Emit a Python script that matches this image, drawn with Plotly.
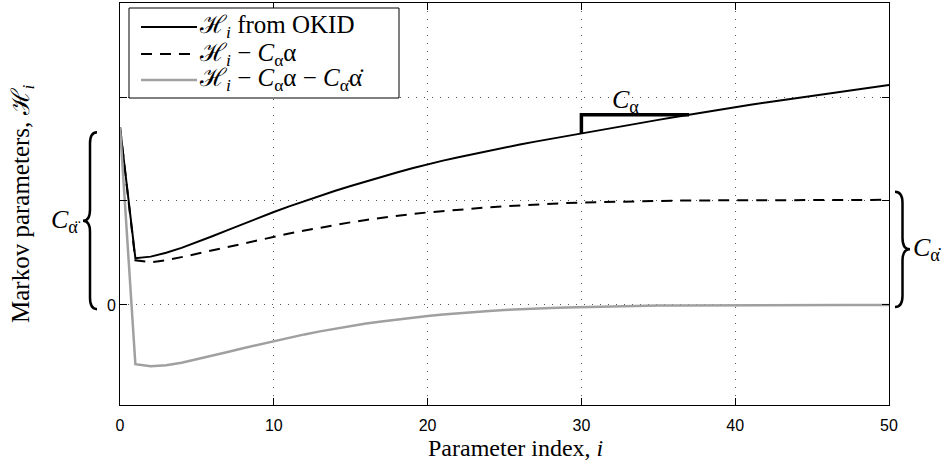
import plotly.graph_objects as go

# Markov parameter index
idx = list(range(51))

# Markov parameters identified by OKID
h_okid = [1.71, 0.45, 0.465, 0.502, 0.549, 0.603, 0.661, 0.720, 0.779, 0.837,
          0.894, 0.948, 1.0, 1.05, 1.098, 1.144, 1.189, 1.232, 1.274, 1.314,
          1.353, 1.388, 1.421, 1.453, 1.484, 1.514, 1.543, 1.571, 1.598, 1.624,
          1.65, 1.677, 1.703, 1.729, 1.755, 1.78, 1.805, 1.83, 1.855, 1.879,
          1.903, 1.925, 1.947, 1.968, 1.989, 2.01, 2.031, 2.052, 2.073, 2.094,
          2.115]

# Markov parameters with the C_alpha * alpha contribution removed
h_minus_alpha = [1.71, 0.43, 0.41, 0.43, 0.46, 0.493, 0.527, 0.561, 0.594, 0.626,
                 0.657, 0.687, 0.716, 0.744, 0.77, 0.795, 0.818, 0.839, 0.858, 0.875,
                 0.89, 0.904, 0.917, 0.929, 0.94, 0.95, 0.959, 0.967, 0.974, 0.98,
                 0.985, 0.989, 0.993, 0.996, 0.999, 1.001, 1.003, 1.005, 1.006, 1.007,
                 1.008, 1.009, 1.009, 1.01, 1.01, 1.01, 1.011, 1.011, 1.011, 1.011,
                 1.011]

# ... and with the C_alphadot * alphadot contribution removed as well
h_minus_both = [1.71, -0.57, -0.59, -0.58, -0.555, -0.523, -0.488, -0.452, -0.416, -0.381,
                -0.347, -0.314, -0.283, -0.254, -0.227, -0.202, -0.179, -0.158, -0.139, -0.122,
                -0.106, -0.092, -0.079, -0.067, -0.057, -0.048, -0.04, -0.033, -0.028, -0.024,
                -0.02, -0.016, -0.013, -0.01, -0.008, -0.006, -0.004, -0.003, -0.002, -0.001,
                0.0, 0.0, 0.001, 0.001, 0.001, 0.001, 0.001, 0.0, 0.0, 0.0,
                0.0]

legend_labels = [
    "ℋ<sub><i>i</i></sub> from OKID",
    "ℋ<sub><i>i</i></sub> − <i>C</i><sub>α</sub>α",
    "ℋ<sub><i>i</i></sub> − <i>C</i><sub>α</sub>α − <i>C</i><sub>α̇</sub>α̇",
]

x_tick_vals = [0, 10, 20, 30, 40, 50]
y_tick_vals = [0]
y_tick_text = ["0"]
y_grid_only = [1, 2]

# slope triangle on the OKID curve (start / end index)
slope_i0, slope_i1 = 30, 37
# vertical extent of the two braces, in data units
brace_left_span = [-0.04, 1.66]
brace_right_span = [-0.02, 1.09]

# ---------------------------------------------------------------- geometry
W, H = 948, 465
M = dict(l=120, r=59, t=3, b=60)
X_RANGE = [0, 50]
Y_RANGE = [-0.962, 2.904]
PW = W - M["l"] - M["r"]
PH = H - M["t"] - M["b"]

SERIF = "Liberation Serif, DejaVu Serif, serif"
SANS = "Liberation Sans, Arial, sans-serif"
GRAY = "#a0a0a0"
TXT = 26


def paper_x(px):
    return (px - M["l"]) / PW


def paper_y(py):
    return (H - M["b"] - py) / PH


def data_y(v):
    return (v - Y_RANGE[0]) / (Y_RANGE[1] - Y_RANGE[0])


def brace_path(x_end, x_tip, y_top, y_bot, r=0.028):
    xm = (x_end + x_tip) / 2
    yc = (y_top + y_bot) / 2
    return (f"M {x_end},{y_top} Q {xm},{y_top} {xm},{y_top - r} "
            f"L {xm},{yc + r} Q {xm},{yc} {x_tip},{yc} "
            f"Q {xm},{yc} {xm},{yc - r} "
            f"L {xm},{y_bot + r} Q {xm},{y_bot} {x_end},{y_bot}")


fig = go.Figure()

fig.add_trace(go.Scatter(x=idx, y=h_okid, mode="lines",
                         line=dict(color="black", width=2), showlegend=False))
fig.add_trace(go.Scatter(x=idx, y=h_minus_alpha, mode="lines",
                         line=dict(color="black", width=2, dash="11px,8px"),
                         showlegend=False))
fig.add_trace(go.Scatter(x=idx, y=h_minus_both, mode="lines",
                         line=dict(color=GRAY, width=2.5), showlegend=False))

# slope triangle marking C_alpha
fig.add_trace(go.Scatter(
    x=[slope_i0, slope_i0, slope_i1],
    y=[h_okid[slope_i0], h_okid[slope_i1], h_okid[slope_i1]],
    mode="lines", line=dict(color="black", width=3.5), showlegend=False))

shapes = []
annotations = []

# braces
shapes.append(dict(type="path", xref="paper", yref="paper",
                   path=brace_path(paper_x(97), paper_x(83),
                                   data_y(brace_left_span[1]), data_y(brace_left_span[0])),
                   line=dict(color="black", width=2.5)))
shapes.append(dict(type="path", xref="paper", yref="paper",
                   path=brace_path(paper_x(895), paper_x(910),
                                   data_y(brace_right_span[1]), data_y(brace_right_span[0])),
                   line=dict(color="black", width=2.5)))

annotations.append(dict(xref="paper", yref="paper", x=paper_x(83),
                        y=data_y(sum(brace_left_span) / 2),
                        xanchor="right", yanchor="middle", showarrow=False,
                        text="<i>C</i><sub>α̈</sub>",
                        font=dict(family=SERIF, size=TXT, color="black")))
annotations.append(dict(xref="paper", yref="paper", x=paper_x(911),
                        y=data_y(sum(brace_right_span) / 2),
                        xanchor="left", yanchor="middle", showarrow=False,
                        text="<i>C</i><sub>α̇</sub>",
                        font=dict(family=SERIF, size=TXT, color="black")))
annotations.append(dict(xref="x", yref="y", x=(slope_i0 + slope_i1) / 2,
                        y=h_okid[slope_i1], xanchor="center", yanchor="bottom",
                        xshift=-10, yshift=-4, showarrow=False,
                        text="<i>C</i><sub>α</sub>",
                        font=dict(family=SERIF, size=TXT, color="black")))

# legend box
shapes.append(dict(type="rect", xref="paper", yref="paper", layer="above",
                   x0=paper_x(129), x1=paper_x(399), y0=paper_y(98), y1=paper_y(8),
                   fillcolor="white", line=dict(color="black", width=1)))
row_y = [27, 54, 80]
row_style = [dict(color="black", width=2),
             dict(color="black", width=2, dash="11px,8px"),
             dict(color=GRAY, width=2.5)]
for ry, st, lab in zip(row_y, row_style, legend_labels):
    shapes.append(dict(type="line", xref="paper", yref="paper", layer="above",
                       x0=paper_x(141), x1=paper_x(197), y0=paper_y(ry), y1=paper_y(ry),
                       line=st))
    annotations.append(dict(xref="paper", yref="paper", x=paper_x(197), y=paper_y(ry),
                            xanchor="left", yanchor="middle", showarrow=False,
                            text=lab, font=dict(family=SERIF, size=TXT - 1, color="black")))

# axis titles
annotations.append(dict(xref="paper", yref="paper", x=paper_x(515), y=paper_y(448),
                        xanchor="center", yanchor="middle", showarrow=False,
                        text="Parameter index, <i>i</i>",
                        font=dict(family=SERIF, size=TXT - 2, color="black")))
annotations.append(dict(xref="paper", yref="paper", x=paper_x(22), y=0.5,
                        xanchor="center", yanchor="middle", showarrow=False,
                        textangle=-90,
                        text="Markov parameters, ℋ<sub><i>i</i></sub>",
                        font=dict(family=SERIF, size=TXT - 1, color="black")))

axis_common = dict(showline=True, linecolor="black", linewidth=1, mirror="ticks",
                   ticks="inside", ticklen=7, tickcolor="black", tickwidth=1,
                   showgrid=True, gridcolor="#555555", gridwidth=1, griddash="1px,7px",
                   zeroline=False, tickfont=dict(family=SANS, size=16, color="black"))

fig.update_xaxes(range=X_RANGE, tickvals=x_tick_vals, ticklabelstandoff=6, **axis_common)
fig.update_yaxes(range=Y_RANGE, tickvals=y_tick_vals, ticktext=y_tick_text,
                 minor=dict(tickvals=y_grid_only, ticks="inside", ticklen=7,
                            tickcolor="black", showgrid=True, gridcolor="#555555",
                            gridwidth=1, griddash="1px,7px"),
                 **axis_common)

fig.update_layout(width=W, height=H, margin=M, plot_bgcolor="white",
                  paper_bgcolor="white", shapes=shapes, annotations=annotations,
                  showlegend=False)

fig.write_html("out.html")
